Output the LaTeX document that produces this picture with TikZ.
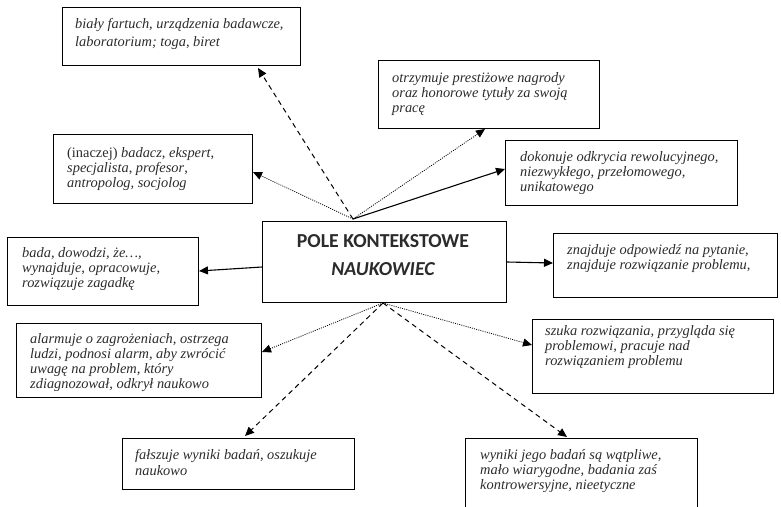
\documentclass[tikz,border=0pt]{standalone}
\usepackage{fontspec}
\setmainfont{Liberation Serif}
\newfontfamily\calib{Carlito}
\usetikzlibrary{arrows.meta,calc}
\definecolor{txt}{HTML}{2B2B2B}
\tikzset{
  box/.style={draw=black, line width=1pt, inner sep=0pt, anchor=north west},
  btext/.style={anchor=base west, inner sep=0pt, text=txt},
  tip/.style={-{Triangle[length=9pt,width=8pt]}},
  solidarr/.style={tip, line width=1.1pt},
  dasharr/.style={tip, line width=1pt, dash pattern=on 5pt off 4pt},
  dotarr/.style={tip, line width=0.8pt, dash pattern=on 1pt off 1.2pt},
}
\newcommand{\bt}[2]{\parbox[t]{#1pt}{\raggedright\fontsize{14.4}{15.3}\selectfont\itshape #2}}
\begin{document}
\begin{tikzpicture}[x=1pt,y=-1pt]
\useasboundingbox (0,0) rectangle (781,506);
% boxes
\node[box, minimum width=238, minimum height=58] (b1) at (62,7) {};
\node[box, minimum width=221, minimum height=68] (b2) at (378,60) {};
\node[box, minimum width=199, minimum height=69] (b3) at (53,134) {};
\node[box, minimum width=232, minimum height=65] (b4) at (505,140) {};
\node[box, minimum width=191, minimum height=68] (b5) at (7,237) {};
\node[box, minimum width=244, minimum height=81] (c) at (262,221) {};
\node[box, minimum width=224, minimum height=64] (b7) at (553,233) {};
\node[box, minimum width=245, minimum height=74] (b8) at (16,323) {};
\node[box, minimum width=241, minimum height=74] (b9) at (532,319) {};
\node[box, minimum width=232, minimum height=51] (b10) at (122,438) {};
\node[box, minimum width=232, minimum height=80] (b11) at (465,438) {};
% texts
\node[btext] (t1) at (75,28) {\parbox[t]{220pt}{\raggedright\fontsize{14.4}{18.5}\selectfont\itshape biały fartuch, urządzenia badawcze,\\laboratorium; toga, biret}};
\node[btext] (t2) at (392,82) {\bt{205}{otrzymuje prestiżowe nagrody\\oraz honorowe tytuły za swoją\\pracę}};
\node[btext] (t3) at (67,157) {\bt{185}{\upshape(inaczej) \itshape badacz\upshape, \itshape ekspert\upshape,\\\itshape specjalista\upshape, \itshape profesor\upshape,\\\itshape antropolog, socjolog}};
\node[btext] (t4) at (520,161) {\bt{215}{dokonuje odkrycia rewolucyjnego,\\niezwykłego, przełomowego,\\unikatowego}};
\node[btext] (t5) at (22,257) {\bt{175}{bada, dowodzi, że\ldots,\\wynajduje, opracowuje,\\rozwiązuje zagadkę}};
\node[btext] (t7) at (567,254) {\bt{205}{znajduje odpowiedź na pytanie,\\znajduje rozwiązanie problemu,}};
\node[btext] (t8) at (30,343) {\bt{230}{alarmuje o zagrożeniach, ostrzega\\ludzi, podnosi alarm, aby zwrócić\\uwagę na problem, który\\zdiagnozował, odkrył naukowo}};
\node[btext] (t9) at (545,335) {\bt{225}{szuka rozwiązania, przygląda się\\problemowi, pracuje nad\\rozwiązaniem problemu}};
\node[btext] (t10) at (135,459) {\parbox[t]{215pt}{\raggedright\fontsize{14.4}{16.5}\selectfont\itshape fałszuje wyniki badań, oszukuje\\naukowo}};
\node[btext] (t11) at (480,459) {\bt{215}{wyniki jego badań są wątpliwe,\\mało wiarygodne, badania zaś\\kontrowersyjne, nieetyczne}};
\node[anchor=base, inner sep=0pt, text=txt] (ct1) at (383,247) {\calib\bfseries\fontsize{19.8}{19.8}\selectfont POLE KONTEKSTOWE};
\node[anchor=base, inner sep=0pt, text=txt] (ct2) at (383,275) {\calib\bfseries\itshape\fontsize{19.8}{19.8}\selectfont NAUKOWIEC};
% origins and targets (y grows downwards)
\coordinate (T) at ($(c.north west)+(91,-2)$);
\coordinate (B) at ($(c.south west)+(121,0)$);
\coordinate (L) at ($(c.north west)+(0,46)$);
\coordinate (R) at ($(c.north east)+(0,41)$);
\coordinate (e1) at ($(b1.south west)+(196,2)$);
\coordinate (e2) at ($(b2.south west)+(107,0)$);
\coordinate (e3) at ($(b3.north east)+(0,38)$);
\coordinate (e4) at ($(b4.north west)+(0,29)$);
\coordinate (e5) at ($(b5.north east)+(0,34)$);
\coordinate (e7) at ($(b7.north west)+(0,30)$);
\coordinate (e8) at ($(b8.north east)+(0,29)$);
\coordinate (e9) at ($(b9.north west)+(0,26)$);
\coordinate (e10) at ($(b10.north west)+(123,-2)$);
\coordinate (e11) at ($(b11.north west)+(102,-1)$);
% connectors
\draw[dasharr] (T) -- (e1);
\draw[dotarr] (T) -- (e2);
\draw[dotarr] (T) -- (e3);
\draw[solidarr] (T) -- (e4);
\draw[solidarr] (L) -- (e5);
\draw[solidarr] (R) -- (e7);
\draw[dotarr] (B) -- (e8);
\draw[dasharr] (B) -- (e10);
\draw[dotarr] (B) -- (e9);
\draw[dasharr] (B) -- (e11);
\end{tikzpicture}
\end{document}
